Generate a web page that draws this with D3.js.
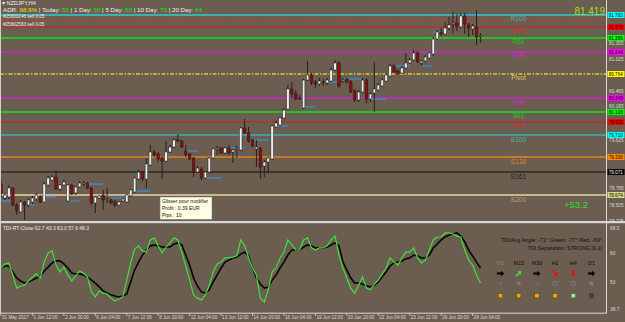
<!DOCTYPE html>
<html><head><meta charset="utf-8">
<script src="https://cdn.jsdelivr.net/npm/d3@7"></script>
<style>
html,body{margin:0;padding:0;background:#6b5d4f;}
svg{display:block;font-family:"Liberation Sans",Arial,sans-serif;}
</style></head><body>
<svg id="chart" width="625" height="322"></svg>
<script>
// NZDJPY H4 candles (bar 0 = 31 May 04:00)
var opens = [78.864,78.622,78.640,78.795,78.501,78.381,78.553,78.501,78.553,78.605,
  78.640,78.553,78.847,78.933,78.985,78.778,78.847,78.571,78.847,78.709,
  78.812,78.864,78.881,78.795,78.536,78.622,78.674,78.640,78.588,78.553,
  78.501,78.571,78.553,78.657,78.726,78.950,79.071,78.950,79.192,79.417,
  79.382,79.313,79.261,79.417,79.503,79.624,79.607,79.434,79.382,79.313,
  79.071,79.123,78.968,79.071,79.313,79.469,79.486,79.400,79.486,79.417,
  79.469,79.451,79.831,79.745,79.624,79.469,79.486,79.175,79.244,79.296,
  79.849,79.883,80.004,80.159,80.505,80.419,80.349,80.177,80.660,80.747,
  80.626,80.591,80.626,80.609,80.643,80.833,80.954,80.643,80.678,80.626,
  80.470,80.315,80.453,80.660,80.332,80.436,80.488,80.557,80.643,80.729,
  80.902,80.816,80.781,80.868,80.954,81.006,81.127,80.954,80.989,81.040,
  81.109,81.368,81.489,81.455,81.558,81.628,81.645,81.576,81.766,81.610,
  81.541,81.576,81.403];
var highs = [78.933,78.691,78.847,78.812,78.536,78.588,78.571,78.622,78.657,78.709,
  78.674,78.899,79.002,79.020,79.106,78.864,78.933,78.864,78.864,78.830,
  78.916,78.916,78.899,78.812,78.657,78.674,78.761,78.795,78.605,78.588,
  78.571,78.622,78.691,78.778,78.985,79.106,79.089,79.313,79.538,79.451,
  79.417,79.348,79.607,79.538,79.659,79.728,79.624,79.538,79.400,79.330,
  79.175,79.158,79.089,79.330,79.486,79.520,79.503,79.503,79.538,79.469,
  79.520,79.849,79.987,79.849,79.641,79.624,79.503,79.279,79.330,79.883,
  79.952,80.021,80.177,80.574,80.626,80.488,80.401,80.678,80.989,80.781,
  80.660,80.695,80.678,80.695,80.868,81.006,80.989,80.695,80.695,80.660,
  80.505,80.488,80.695,80.695,80.453,80.971,80.609,80.695,80.781,80.937,
  80.937,80.850,80.902,81.127,81.040,81.178,81.161,81.006,81.092,81.144,
  81.403,81.524,81.558,81.662,81.748,81.835,81.800,81.817,81.817,81.645,
  81.628,81.869,81.472];
var lows = [78.622,78.588,78.605,78.484,78.329,78.363,78.242,78.467,78.519,78.571,
  78.536,78.536,78.830,78.916,78.761,78.743,78.830,78.553,78.674,78.674,
  78.795,78.830,78.778,78.501,78.363,78.605,78.415,78.536,78.519,78.467,
  78.484,78.553,78.536,78.640,78.709,78.933,78.916,78.795,79.175,79.330,
  79.244,78.950,79.244,79.400,79.486,79.590,79.486,79.330,79.279,78.985,
  79.054,78.933,78.950,79.054,79.296,79.365,79.382,79.382,79.365,79.227,
  79.313,79.434,79.728,79.572,79.503,79.158,78.950,78.985,79.054,79.279,
  79.831,79.866,79.987,80.142,80.349,80.315,80.315,80.159,80.643,80.574,
  80.522,80.557,80.557,80.574,80.626,80.816,80.522,80.609,80.591,80.436,
  80.280,80.280,80.436,80.263,80.280,80.108,80.470,80.539,80.626,80.712,
  80.781,80.747,80.764,80.850,80.937,80.989,80.954,80.902,80.971,81.023,
  81.075,81.351,81.420,81.437,81.524,81.472,81.507,81.558,81.455,81.403,
  81.437,81.265,81.299];
var closes = [78.709,78.674,78.795,78.501,78.398,78.553,78.501,78.588,78.622,78.674,
  78.553,78.864,78.968,78.985,78.778,78.847,78.899,78.847,78.691,78.812,
  78.881,78.881,78.795,78.536,78.640,78.657,78.588,78.657,78.536,78.501,
  78.553,78.605,78.674,78.761,78.968,79.071,78.950,79.210,79.417,79.365,
  79.296,79.261,79.417,79.503,79.624,79.607,79.503,79.365,79.296,79.071,
  79.140,78.968,79.071,79.313,79.469,79.486,79.400,79.486,79.400,79.451,
  79.486,79.831,79.745,79.607,79.520,79.503,79.158,79.244,79.313,79.866,
  79.918,80.004,80.142,80.505,80.419,80.332,80.340,80.660,80.747,80.609,
  80.591,80.643,80.609,80.660,80.833,80.954,80.557,80.660,80.626,80.453,
  80.315,80.453,80.660,80.332,80.419,80.505,80.574,80.660,80.747,80.902,
  80.799,80.764,80.868,80.954,81.006,81.127,80.971,80.989,81.058,81.127,
  81.368,81.489,81.455,81.558,81.610,81.645,81.593,81.766,81.628,81.558,
  81.593,81.403,81.419];

// TDI sub window: green price line and black signal line
var tdiGreen = [53.6,55.0,55.3,51.2,46.8,47.5,47.8,49.2,50.6,51.6,
  50.2,55.6,58.7,59.4,54.6,52.3,53.9,51.2,49.2,50.9,
  52.6,51.9,50.6,45.5,43.8,45.8,45.1,44.8,43.4,42.4,
  43.1,43.8,49.5,55.3,60.0,61.1,59.4,59.0,63.1,63.8,
  61.1,58.7,60.7,62.1,63.8,63.1,59.0,54.3,49.5,44.5,
  43.4,42.8,44.5,47.8,52.3,55.0,55.6,57.0,57.0,57.3,
  57.7,63.1,61.1,57.0,53.6,51.2,43.4,42.1,46.2,52.3,
  53.6,57.0,59.0,63.1,61.4,59.7,59.7,63.1,63.8,60.4,
  59.7,60.4,60.4,61.1,63.1,64.4,58.0,53.6,50.2,46.8,
  45.1,47.8,50.6,46.8,46.2,48.2,49.5,51.6,53.6,57.0,
  55.6,54.6,57.0,59.0,59.0,60.4,57.0,55.3,56.3,59.7,
  63.1,64.1,64.1,65.5,65.5,65.1,64.4,64.1,59.7,56.3,
  54.6,51.2,48.5];
var tdiBlack = [53.6,54.3,54.3,52.3,50.2,49.2,48.5,48.9,49.5,50.2,
  50.9,52.6,53.9,55.3,56.0,56.0,55.0,53.6,51.9,51.6,
  51.6,51.2,50.6,49.5,48.5,47.2,45.8,45.1,44.5,44.1,
  43.8,44.1,44.8,48.9,52.9,55.6,58.0,59.7,61.1,61.4,
  61.1,60.7,60.7,60.7,61.7,62.1,61.4,58.0,54.6,50.2,
  47.5,45.5,45.1,46.2,48.9,51.2,53.6,55.6,56.3,57.0,
  57.3,58.3,59.0,57.7,53.6,50.2,48.2,46.8,47.2,49.5,
  51.2,53.6,55.6,58.0,59.7,59.7,59.7,60.7,61.4,61.1,
  60.4,60.4,60.4,60.7,61.4,62.1,61.1,55.6,52.9,50.2,
  48.5,48.5,48.2,47.5,47.2,47.8,48.9,50.6,52.3,54.3,
  55.3,55.6,56.0,56.7,57.0,58.0,57.7,57.0,57.0,58.0,
  60.4,61.7,63.1,64.1,64.8,65.1,65.5,64.4,62.4,59.7,
  57.7,55.6,53.6];

// fibonacci pivot levels
var levelNames = ["R100","R78","R61","R38","Pivot","S38","S61","S78","S100","S138","S161","S200"];
var levelValues = [81.783,81.576,81.386,81.144,80.764,80.349,80.108,79.935,79.710,79.330,79.071,78.674];

// short blue marks next to the candles
var markStart = [0,7,11.5,17.5,22,28,34,47,52,58,64,70,77,83,87,94,100,107,110,118];
var markEnd   = [2.5,8.5,14,20,26,31.5,38,50,56,62,68,73,80,86,92,98,104,109.5,113,121];
var markPrice = [78.571,78.501,78.640,78.571,78.864,78.622,78.743,79.434,78.968,79.486,
  79.624,79.866,80.194,80.626,80.678,80.332,80.902,80.902,81.489,81.783];

var orderTickets = ["#25800246 sell 0.05","#25802583 sell 0.05"];
var orderPrice = 81.697;

var priceTicks = [78.225,78.505,78.785,79.065,79.345,79.625,79.905,80.185,80.465,80.745,81.025,81.305];
var indTicks = [68.5,60,50,38.7];
var timeBars = [0,8,16,24,32,40,48,56,64,72,80,88,96,104,112,120];
var timeLabels = ["31 May 2017","1 Jun 12:00","2 Jun 20:00","6 Jun 04:00","7 Jun 12:00","8 Jun 20:00",
  "12 Jun 04:00","13 Jun 12:00","14 Jun 20:00","16 Jun 04:00","19 Jun 12:00","20 Jun 20:00",
  "22 Jun 04:00","23 Jun 12:00","26 Jun 20:00","28 Jun 04:00"];

var adrParts = ["ADR: ","88.9%"," | Today: ","59"," | 1 Day: ","50"," | 5 Day: ","60"," | 10 Day: ","70"," | 20 Day: ","64"];
var tfNames = ["M5","M15","M30","H1","H4","D1"];
var tfArrows = ["right","upright","right","downright","down","right"];
var tfDots = ["dot","square","loop","ring","ring","square"];
var tfBoxes = ["orange","orange","orange","orange","lightgreen","dark"];
var lastPrice = "81.419";
var profitText = "+53.2";

var svg = d3.select("#chart"),
    W = 625, H = 322,
    plotRight = 606,
    bg = "#6b5d4f";

var x = d3.scaleLinear().domain([0, 120]).range([1, 472.6]);
var y = d3.scaleLinear().domain([78.225, 82.042]).range([221, 0]);
var yInd = d3.scaleLinear().domain([38.7, 68.5]).range([312, 224]);

svg.append("rect").attr("width", W).attr("height", H).attr("fill", bg);

svg.append("clipPath").attr("id", "mainClip")
  .append("rect").attr("x", 0).attr("y", 0).attr("width", plotRight).attr("height", 221);
svg.append("clipPath").attr("id", "indClip")
  .append("rect").attr("x", 0).attr("y", 224).attr("width", plotRight).attr("height", 89);

var main = svg.append("g").attr("clip-path", "url(#mainClip)");

// pivot level lines
var lvColor = ["#3eb0ae","#d42020","#22c422","#cc22cc","#bfae36","#cc22cc","#22c422","#d42020","#3eb0ae","#c47a28","#111111","#c9b68c"];
var lvTextColor = ["#3fb5b3","#d83030","#28c428","#c22bc2","#d8ca50","#c22bc2","#28c428","#d83030","#3fb5b3","#d4862e","#222222","#b5a47a"];
var lvWidth = [2,1,2,1.5,2,1.5,2,1,1.5,2.2,1.2,1.8];
var levels = levelNames.map(function(n, i) { return {name: n, v: levelValues[i], i: i}; });

main.selectAll(".lvl").data(levels).enter().append("line")
    .attr("x1", 0).attr("x2", plotRight)
    .attr("y1", function(d) { return y(d.v); })
    .attr("y2", function(d) { return y(d.v); })
    .attr("stroke", function(d) { return lvColor[d.i]; })
    .attr("stroke-width", function(d) { return lvWidth[d.i]; })
    .attr("stroke-dasharray", function(d) { return d.name == "Pivot" ? "4,1.5,1.5,1.5" : null; });

// pending order line
main.append("line")
    .attr("x1", 0).attr("x2", plotRight)
    .attr("y1", y(orderPrice)).attr("y2", y(orderPrice))
    .attr("stroke", "#e8341c").attr("stroke-width", 1)
    .attr("stroke-dasharray", "5,2,1.5,2");

// blue marks
main.selectAll(".mark").data(markPrice).enter().append("line")
    .attr("x1", function(d, i) { return x(markStart[i]); })
    .attr("x2", function(d, i) { return x(markEnd[i]); })
    .attr("y1", function(d) { return y(d); })
    .attr("y2", function(d) { return y(d); })
    .attr("stroke", "#3d8fe0").attr("stroke-width", 1.2);

// candles
var bars = opens.map(function(o, i) { return {i: i, o: o, h: highs[i], l: lows[i], c: closes[i]}; });
main.selectAll(".wick").data(bars).enter().append("line")
    .attr("x1", function(d) { return x(d.i); })
    .attr("x2", function(d) { return x(d.i); })
    .attr("y1", function(d) { return y(d.h); })
    .attr("y2", function(d) { return y(d.l); })
    .attr("stroke", "#1e1a16").attr("stroke-width", 0.9);
main.selectAll(".body").data(bars).enter().append("rect")
    .attr("x", function(d) { return x(d.i) - 1.3; })
    .attr("width", 2.6)
    .attr("y", function(d) { return y(Math.max(d.o, d.c)); })
    .attr("height", function(d) { return Math.max(0.8, Math.abs(y(d.o) - y(d.c))); })
    .attr("fill", function(d) { return d.c >= d.o ? "#ededed" : "#8c1010"; })
    .attr("stroke", "#1e1a16").attr("stroke-width", 0.5);

// level names
main.selectAll(".lvlText").data(levels).enter().append("text")
    .attr("x", 518.5)
    .attr("y", function(d) { return y(d.v) + 6.5; })
    .attr("text-anchor", "middle")
    .attr("font-size", "6.6px")
    .attr("fill", function(d) { return lvTextColor[d.i]; })
    .text(function(d) { return d.name; });

// header texts
svg.append("text").attr("x", 2).attr("y", 4.5).attr("font-size", "5.5px").attr("fill", "#f0f0f0")
  .text("\u25BE NZDJPY,H4");
var adrColor = ["#f0f0f0","#e6e619","#f0f0f0","#22e022","#f0f0f0","#22e022","#f0f0f0","#22e022","#f0f0f0","#22e022","#f0f0f0","#22e022"];
svg.append("text").attr("x", 3).attr("y", 12).attr("font-size", "6.2px")
  .selectAll("tspan").data(adrParts).enter().append("tspan")
    .attr("fill", function(d, i) { return adrColor[i]; })
    .attr("xml:space", "preserve")
    .text(function(d) { return d; });
svg.selectAll(".ticket").data(orderTickets).enter().append("text")
    .attr("x", 3).attr("y", function(d, i) { return 17.5 + i * 8; })
    .attr("font-size", "4.6px").attr("fill", "#eeeeee")
    .text(function(d) { return d; });

svg.append("text").attr("x", 605).attr("y", 15).attr("text-anchor", "end")
  .attr("font-size", "10px").attr("fill", "#a6dd2c").text(lastPrice);
svg.append("text").attr("x", 588).attr("y", 208).attr("text-anchor", "end")
  .attr("font-size", "9.5px").attr("fill", "#2fe02f").text(profitText);

// drag tooltip
var tip = svg.append("g").attr("transform", "translate(160,197)");
tip.append("rect").attr("width", 52).attr("height", 22.5)
  .attr("fill", "#ffffe1").attr("stroke", "#777").attr("stroke-width", 0.6);
tip.selectAll("text").data(["Glisser pour modifier","Profit : 0.39 EUR","Pips : 10"]).enter().append("text")
    .attr("x", 2).attr("y", function(d, i) { return 6 + i * 7; })
    .attr("font-size", "5px").attr("fill", "#111").text(function(d) { return d; });

// pane separator and frame
svg.append("rect").attr("x", 0).attr("y", 221).attr("width", W).attr("height", 2.2).attr("fill", "#d6d6d6");
svg.append("line").attr("x1", 0.5).attr("x2", 0.5).attr("y1", 0).attr("y2", 313).attr("stroke", "#cfcfcf").attr("stroke-width", 1);
svg.append("line").attr("x1", plotRight + 0.5).attr("x2", plotRight + 0.5).attr("y1", 0).attr("y2", 313)
  .attr("stroke", "#d8d8d8").attr("stroke-width", 1);

// price axis labels; the ones under a level box are pushed just clear of it
var tickLabelY = function(p) {
  var ty = y(p), best = null;
  levelValues.forEach(function(v) {
    if (best === null || Math.abs(y(v) - ty) < Math.abs(best - ty)) best = y(v);
  });
  var dy = ty - best;
  if (Math.abs(dy) < 2) return null;
  if (Math.abs(dy) < 5.5) return dy > 0 ? best + 7.4 : best - 3.6;
  return ty + 1.8;
};
svg.selectAll(".ptick").data(priceTicks.filter(function(p) { return tickLabelY(p) !== null; }))
  .enter().append("text")
    .attr("x", 609).attr("y", function(d) { return tickLabelY(d); })
    .attr("font-size", "4.8px").attr("fill", "#d8d8d8")
    .text(function(d) { return d.toFixed(3); });

// level value boxes on the price axis
var boxFill = ["#00ffff","#ff0000","#00ff00","#ff00ff","#ffff00","#ff00ff","#00ff00","#ff0000","#00ffff","#ff8c00","#000000","#d6d68c"];
var boxes = svg.selectAll(".lvBox").data(levels).enter().append("g")
    .attr("transform", function(d) { return "translate(607.5," + y(d.v) + ")"; });
boxes.append("rect").attr("x", 0).attr("y", -3).attr("width", 17).attr("height", 6)
    .attr("fill", function(d) { return boxFill[d.i]; });
boxes.append("text").attr("x", 1.2).attr("y", 1.8).attr("font-size", "4.6px")
    .attr("fill", function(d) { return d.name == "S161" ? "#ffffff" : "#000000"; })
    .text(function(d) { return d.v.toFixed(3); });

// TDI pane
var ind = svg.append("g").attr("clip-path", "url(#indClip)");
var lineOf = function(arr) {
  return d3.line().x(function(d, i) { return x(i); }).y(function(d) { return yInd(d); })(arr);
};
ind.append("path").attr("d", lineOf(tdiBlack)).attr("fill", "none").attr("stroke", "#050505").attr("stroke-width", 1.6);
ind.append("path").attr("d", lineOf(tdiGreen)).attr("fill", "none").attr("stroke", "#3ee23e").attr("stroke-width", 1.2);

svg.append("text").attr("x", 3).attr("y", 229.5).attr("font-size", "5px").attr("fill", "#eeeeee")
  .text("TDI-RT-Close 62.7 43.3 63.0 57.6 48.3");

svg.selectAll(".itick").data(indTicks).enter().append("text")
    .attr("x", 610).attr("y", function(d) { return Math.min(yInd(d) + 5.6, 310.5); })
    .attr("font-size", "4.8px").attr("fill", "#d8d8d8")
    .text(function(d) { return d; });

// TDI info block
svg.append("text").attr("x", 602).attr("y", 242).attr("text-anchor", "end")
  .attr("font-size", "5.4px").attr("fill", "#111")
  .text("TDI/Avg Angle: -71\u00B0   Green: -77\u00B0   Red: -69\u00B0");
svg.append("text").attr("x", 602).attr("y", 250).attr("text-anchor", "end")
  .attr("font-size", "5.4px").attr("fill", "#111")
  .text("TDI Separation: STRONG [9.1]");

var tfX = d3.scalePoint().domain(tfNames).range([500.5, 591.5]);
var tf = svg.selectAll(".tf").data(tfNames).enter().append("g")
    .attr("transform", function(d) { return "translate(" + tfX(d) + ",0)"; });
tf.append("text").attr("y", 265).attr("text-anchor", "middle").attr("font-size", "5.4px")
    .attr("fill", function(d, i) { return i == 0 ? "#8a8076" : "#111"; })
    .text(function(d) { return d; });

var arrowRot = {right: 0, upright: -45, downright: 45, down: 90};
var arrowCol = {right: "#000", upright: "#33e033", downright: "#f01010", down: "#f01010"};
tf.append("path")
    .attr("d", "M-3.6,-0.9 L0.6,-0.9 L0.6,-2.7 L3.6,0 L0.6,2.7 L0.6,0.9 L-3.6,0.9 Z")
    .attr("transform", function(d, i) { return "translate(0,273.5) rotate(" + arrowRot[tfArrows[i]] + ")"; })
    .attr("fill", function(d, i) { return arrowCol[tfArrows[i]]; });

tf.each(function(d, i) {
  var g = d3.select(this), kind = tfDots[i];
  if (kind == "dot") g.append("circle").attr("cy", 283.5).attr("r", 0.9).attr("fill", "#8a8a8a");
  else if (kind == "square") g.append("rect").attr("x", -1.8).attr("y", 281.7).attr("width", 3.6).attr("height", 3.6).attr("fill", "#7c7c7c");
  else if (kind == "ring") g.append("circle").attr("cy", 283.5).attr("r", 2.3).attr("fill", "none").attr("stroke", "#7c7c7c").attr("stroke-width", 1);
  else g.append("text").attr("y", 285.5).attr("text-anchor", "middle").attr("font-size", "5px").attr("fill", "#8a8076").text("\u221E");
});
var boxCol = {orange: "#f4a40a", lightgreen: "#98f098", dark: "#2d4f4f"};
tf.append("rect")
    .attr("x", -2.2).attr("y", 293.5).attr("width", 4.4).attr("height", 4.4)
    .attr("fill", function(d, i) { return boxCol[tfBoxes[i]]; })
    .attr("stroke", "#3a3026").attr("stroke-width", 0.4);

// time axis
svg.append("line").attr("x1", 0).attr("x2", plotRight + 1).attr("y1", 313.2).attr("y2", 313.2)
  .attr("stroke", "#d8d8d8").attr("stroke-width", 1);
var tAxis = svg.selectAll(".ttick").data(timeBars).enter().append("g")
    .attr("transform", function(d) { return "translate(" + x(d) + ",313)"; });
tAxis.append("line").attr("y1", 0).attr("y2", 3).attr("stroke", "#d8d8d8").attr("stroke-width", 0.8);
tAxis.append("text").attr("x", 1).attr("y", 6.3).attr("font-size", "4.6px").attr("fill", "#dcdcdc")
    .text(function(d, i) { return timeLabels[i]; });
</script>
</body></html>
